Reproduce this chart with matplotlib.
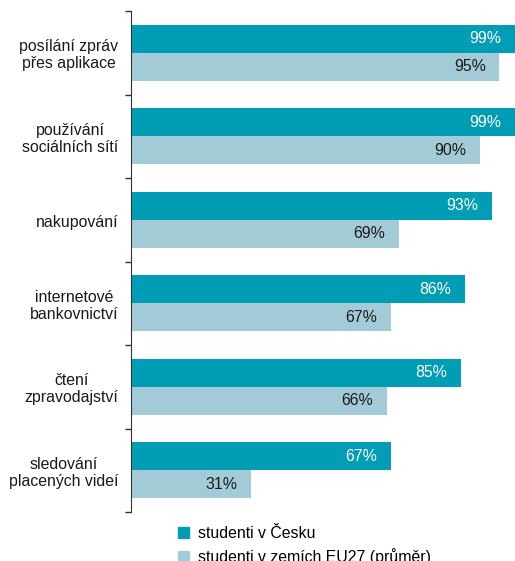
import matplotlib
matplotlib.use("Agg")
import matplotlib.pyplot as plt
from matplotlib.patches import Patch
import numpy as np

plt.rcParams['font.family'] = ['Liberation Sans', 'DejaVu Sans']

categories = ["posílání zpráv\npřes aplikace", "používání\nsociálních sítí", "nakupování",
              "internetové\nbankovnictví", "čtení\nzpravodajství", "sledování\nplacených videí"]
cz = [99, 99, 93, 86, 85, 67]
eu = [95, 90, 69, 67, 66, 31]
series_names = ["studenti v Česku", "studenti v zemích EU27 (průměr)"]
c_dark = "#009DB5"
c_light = "#A3CAD7"

fs = 11.4
fig = plt.figure(figsize=(5.15, 5.61), dpi=100)
ax = fig.add_axes([131/515, 1-512/561, 1-131/515, (512-11)/561])

y = np.arange(len(categories))
h = 0.335
ax.barh(y - h/2, cz, height=h, color=c_dark)
ax.barh(y + h/2, eu, height=h, color=c_light)

for i in range(len(categories)):
    ax.text(cz[i] - 3.5, y[i] - h/2, f"{cz[i]}%", ha='right', va='center', color='white', fontsize=fs)
    ax.text(eu[i] - 3.5, y[i] + h/2, f"{eu[i]}%", ha='right', va='center', color='#1a1a1a', fontsize=fs)
    ax.text(-3.3, y[i] + 0.03, categories[i], ha='right', va='center', multialignment='center',
            fontsize=fs, color='#1a1a1a', linespacing=1.15, clip_on=False)

ax.set_xlim(0, 99)
ax.set_ylim(len(categories) - 0.5, -0.5)
ax.set_yticks(np.arange(-0.5, len(categories)), labels=[])
ax.tick_params(axis='y', direction='out', length=4, width=1, color='#333333')
ax.set_xticks([])
for s in ['top', 'right', 'bottom']:
    ax.spines[s].set_visible(False)
ax.spines['left'].set_color('#333333')

handles = [Patch(color=c_dark), Patch(color=c_light)]
fig.legend(handles, series_names, loc='upper left', bbox_to_anchor=(172/515, 1-520/561),
           frameon=False, fontsize=fs, handlelength=0.7, handleheight=0.7,
           handletextpad=0.55, labelspacing=0.45, borderaxespad=0)

fig.savefig("out.png", dpi=100)
